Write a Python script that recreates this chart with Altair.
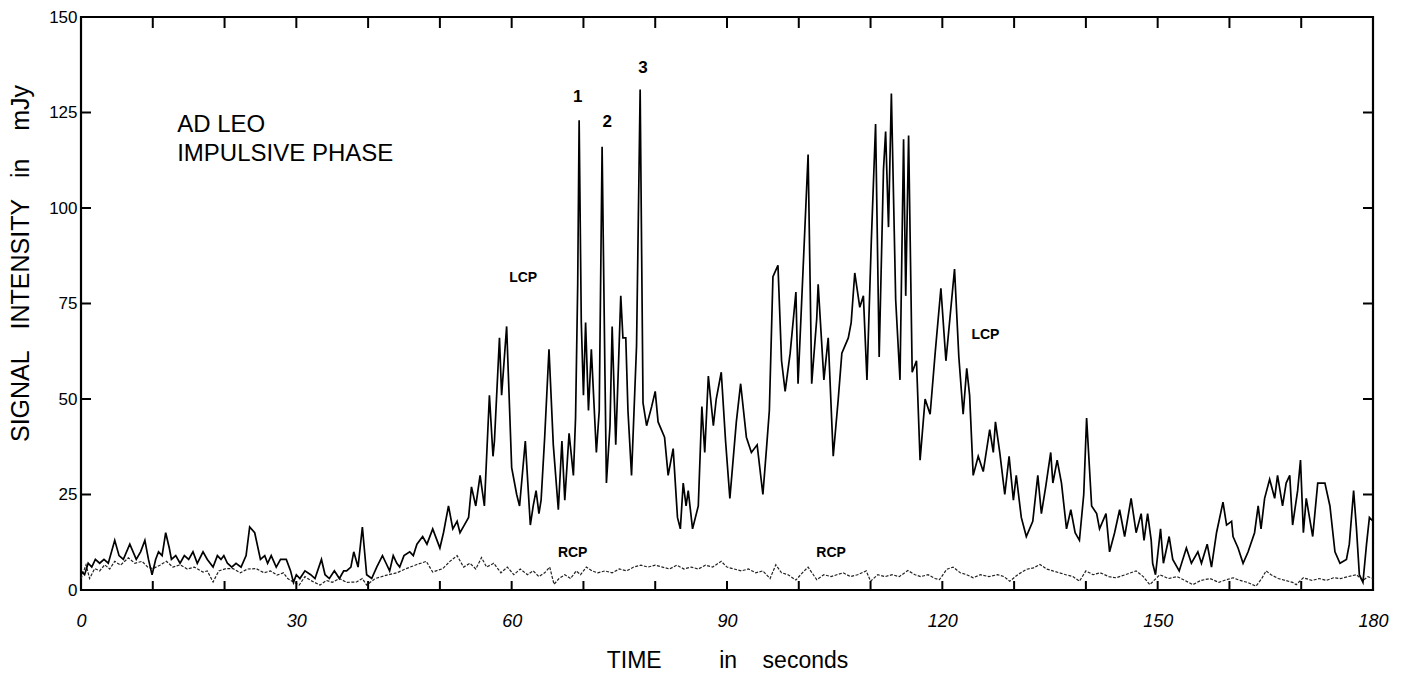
import altair as alt
import pandas as pd

# ---- data (time in s, signal in mJy) ----
lcp_t = [0.0, 0.5, 1.0, 1.5, 2.0, 2.6, 3.2, 3.8, 4.7, 5.3, 5.9, 6.8, 7.7, 8.3, 8.9, 9.4, 9.9, 10.4, 10.8, 11.3,
         11.8, 12.3, 12.6, 13.2, 13.8, 14.4, 15.0, 15.6, 16.2, 17.0, 17.6, 18.4, 19.0, 19.5, 19.9, 20.4, 21.0, 21.6, 22.3, 23.0,
         23.5, 24.2, 25.0, 25.6, 26.0, 26.5, 27.2, 27.8, 28.6, 29.2, 29.6, 30.0, 30.5, 31.2, 32.0, 32.6, 33.5, 34.0, 34.6, 35.3,
         36.0, 36.6, 37.0, 37.6, 38.0, 38.6, 39.2, 39.8, 40.5, 41.2, 42.0, 42.5, 43.0, 43.5, 44.0, 44.4, 45.0, 45.8, 46.3, 46.8,
         47.6, 48.2, 49.0, 49.6, 50.0, 50.5, 51.2, 51.8, 52.4, 52.8, 53.4, 54.0, 54.4, 55.0, 55.6, 56.2, 56.9, 57.4, 57.6, 58.3,
         58.6, 59.3, 60.0, 60.7, 61.1, 61.9, 62.6, 63.0, 63.4, 63.8, 64.1, 64.6, 65.2, 65.8, 66.5, 67.0, 67.4, 68.0, 68.6, 68.9,
         69.2, 69.4, 69.7, 70.0, 70.3, 70.7, 71.1, 71.8, 72.2, 72.6, 73.0, 73.2, 73.7, 74.0, 74.5, 74.9, 75.2, 75.5, 75.9, 76.2,
         76.7, 77.4, 77.9, 78.3, 78.8, 79.5, 80.0, 80.4, 81.3, 81.8, 82.5, 83.1, 83.5, 83.9, 84.3, 84.6, 85.2, 86.0, 86.5, 86.9,
         87.4, 88.1, 88.5, 89.2, 89.8, 90.4, 91.3, 91.9, 92.7, 93.4, 94.2, 95.0, 95.5, 95.9, 96.4, 97.1, 97.6, 98.1, 98.8, 99.6,
         99.9, 100.6, 101.3, 101.8, 102.5, 102.7, 103.5, 104.1, 104.8, 105.5, 106.0, 106.9, 107.3, 107.8, 108.5, 109.0, 109.5, 110.1, 110.7, 111.2,
         111.8, 112.1, 112.5, 112.9, 113.5, 114.1, 114.6, 114.9, 115.3, 115.8, 116.4, 116.9, 117.6, 118.3, 119.0, 119.8, 120.5, 121.1, 121.7, 122.3,
         122.9, 123.4, 123.8, 124.3, 125.0, 125.7, 126.6, 127.1, 127.4, 128.0, 128.7, 129.3, 129.9, 130.3, 131.0, 131.7, 132.6, 133.3, 133.8, 134.4,
         135.1, 135.4, 136.0, 136.6, 137.3, 137.9, 138.5, 139.1, 139.7, 140.1, 140.8, 141.5, 141.9, 142.8, 143.3, 144.0, 144.7, 145.4, 146.3, 147.0,
         147.7, 148.1, 148.6, 149.1, 149.3, 149.7, 150.4, 150.8, 151.6, 152.1, 153.0, 154.0, 154.7, 155.6, 156.1, 156.9, 157.5, 158.2, 159.1, 159.6,
         160.3, 160.5, 161.2, 161.9, 162.6, 163.5, 164.0, 164.4, 164.9, 165.6, 166.3, 166.7, 167.4, 167.9, 168.4, 168.8, 169.5, 169.9, 170.3, 170.7,
         171.6, 172.3, 173.3, 174.0, 174.7, 175.4, 176.3, 176.7, 177.3, 177.7, 178.1, 178.6, 179.1, 179.5, 180.0]
lcp_v = [5, 4, 7, 6, 8, 7, 8, 7, 13, 9, 8, 12, 8, 10, 13, 8, 4, 8, 10, 9,
         15, 11, 8, 9, 7, 9, 8, 10, 7, 10, 8, 6, 9, 8, 9, 7, 6, 7, 6, 9,
         16.5, 15, 8, 9, 7, 9, 6, 8, 8, 5, 2, 4, 3, 5, 4, 3, 8, 4, 3, 5,
         3, 5, 5, 6, 10, 6, 16.5, 4, 3, 6, 9, 7, 5, 9, 7, 6, 9, 10, 9, 12,
         14, 12, 16, 13, 11, 15, 22, 16, 18, 15, 17, 19, 27, 22, 30, 22, 51, 35, 39, 66,
         51, 69, 32, 25, 22, 39, 17, 22, 26, 20, 23.5, 40, 63, 38, 21, 39, 23.5, 41, 30, 45,
         80, 123, 70, 51, 70, 47, 63, 36, 47, 116, 56, 28, 43, 69, 38, 60, 77, 66, 66, 47,
         30, 64, 131, 49, 43, 48, 52, 44, 40, 30, 37, 19, 16, 28, 22, 26, 16, 22, 48, 36,
         56, 43, 50, 57, 39, 24, 44, 54, 40, 36, 38, 25, 37, 47, 82, 85, 60, 52, 62, 78,
         54, 84, 114, 54, 71, 80, 55, 66, 35, 50, 62, 66, 70, 83, 74, 77, 55, 91, 122, 61,
         110, 120, 95, 130, 76, 55, 118, 77, 119, 57, 60, 34, 50, 46, 62, 79, 60, 72, 84, 61,
         46, 58, 51, 30, 35, 31, 42, 36, 44, 36, 25, 35, 23.5, 30, 19, 14, 18, 30, 20, 27,
         36, 28, 34, 28, 16, 21, 15, 13, 25, 45, 22, 20, 16, 20, 10, 15, 21, 14, 24, 15,
         20, 13, 20, 13, 7, 4, 16, 7, 14, 8, 5, 11, 7, 10, 7, 12, 6, 15, 23, 17,
         18, 14, 11, 7, 10, 15, 22, 16, 24, 29, 24, 30, 22, 28, 30, 17, 26, 34, 15, 24,
         14, 28, 28, 22, 10, 7, 8, 12, 26, 16, 4, 2, 12, 19, 18]

rcp_t = [0.0, 0.7, 1.2, 1.9, 2.6, 3.3, 4.0, 4.7, 5.5, 6.6, 7.5, 8.5, 9.3, 10.0, 11.0, 11.9, 12.8, 13.8, 14.8, 15.8,
         17.0, 17.6, 18.4, 19.2, 20.2, 21.2, 22.2, 23.2, 24.4, 25.5, 26.4, 27.3, 28.2, 28.8, 29.6, 30.4, 31.2, 32.0, 33.3, 34.2,
         35.0, 36.0, 37.0, 38.4, 39.2, 39.8, 41.0, 42.6, 44.0, 45.3, 46.7, 48.1, 49.0, 50.4, 51.4, 52.4, 53.3, 54.2, 55.0, 55.8,
         56.5, 57.5, 58.5, 59.4, 60.3, 61.2, 62.2, 63.0, 63.8, 64.6, 65.3, 65.9, 66.6, 67.4, 68.2, 69.0, 69.6, 70.4, 71.2, 72.0,
         73.0, 74.0, 75.0, 76.0, 77.0, 78.0, 79.0, 80.0, 81.0, 82.0, 83.0, 84.0, 85.0, 86.0, 87.0, 88.0, 89.2, 90.0, 91.0, 92.0,
         93.0, 94.0, 95.0, 96.0, 96.8, 97.6, 98.5, 99.6, 100.5, 101.3, 102.5, 103.5, 104.5, 105.3, 106.2, 107.2, 108.2, 109.4, 110.0, 111.0,
         112.0, 113.0, 114.0, 115.2, 116.2, 117.0, 118.0, 119.0, 119.6, 120.6, 121.5, 122.5, 123.4, 124.3, 125.3, 126.5, 127.7, 128.6, 129.4, 130.5,
         131.7, 132.7, 133.6, 134.5, 135.4, 136.3, 137.2, 138.2, 139.1, 140.0, 141.0, 142.0, 143.2, 144.2, 145.5, 147.0, 148.0, 148.9, 150.3, 151.5,
         152.7, 153.8, 154.9, 156.0, 157.3, 158.5, 159.6, 160.5, 161.5, 162.5, 163.7, 164.5, 165.1, 165.8, 166.8, 167.8, 168.8, 169.3, 170.3, 171.5,
         172.5, 173.5, 174.5, 175.5, 176.5, 177.7, 178.6, 179.3, 180.0]
rcp_v = [3, 6.6, 3, 5.6, 5, 6.6, 5.5, 7.5, 6.5, 8.4, 7, 7.5, 6, 5.6, 6.5, 7.5, 6, 6.6, 5.5, 6,
         4.7, 5, 2.1, 5, 5.6, 5.6, 4.5, 5.5, 5.6, 4.5, 5, 3.9, 4.5, 3, 2.1, 1.3, 3.5, 2.5, 1.3, 2.5,
         2, 3, 2, 2.1, 3, 1.3, 3, 3.9, 4.5, 5.6, 6.6, 7.5, 4.7, 5.6, 7.5, 9, 6, 7, 5.5, 8.5,
         6, 7, 4.5, 6, 4, 5.5, 4, 5, 3.5, 4.5, 6, 1.5, 3, 4, 3, 5, 4, 6, 5, 4.5,
         5, 4.5, 5.5, 5, 6, 6.5, 6, 6.5, 6, 5.5, 6.5, 5.5, 6, 5.5, 6.5, 6, 7.5, 6, 5.5, 5,
         5.5, 4.5, 5, 3, 6.6, 4.5, 4, 2.6, 4.5, 6, 2.7, 4, 3.5, 4, 4.5, 3.5, 4, 5, 2.3, 4,
         3.5, 4, 3.5, 5.1, 4, 3.5, 4, 3, 2.7, 5.4, 6, 4.5, 4, 3.2, 4, 3.5, 4, 3.5, 2.3, 4,
         5.4, 5.8, 6.7, 5.5, 5, 4.5, 4, 3.5, 2.3, 5, 4, 4.5, 3.5, 3.2, 4, 5, 3.5, 1.4, 4, 3,
         3.5, 2.5, 1.4, 2.5, 3, 2, 2.7, 3.2, 2.5, 2, 1, 3, 5, 4, 3, 2.5, 2, 1.4, 3.2, 2.5,
         3, 2.5, 3.2, 3, 3.5, 4, 2.5, 3.5, 3]

x_label_values = [0, 30, 60, 90, 120, 150, 180]
y_label_values = [0, 25, 50, 75, 100, 125, 150]
x_tick_values = [10, 20, 30, 40, 50, 60, 70, 80, 90, 100, 110, 120, 130, 140, 150, 160, 170]
y_tick_values = [25, 50, 75, 100, 125]

# annotations: text, time, signal
note_text = ["AD LEO", "IMPULSIVE PHASE"]
note_t = [13.4, 13.4]
note_v = [121.8, 114.2]
peak_text = ["1", "2", "3"]
peak_t = [69.2, 73.3, 78.3]
peak_v = [129.1, 122.5, 136.6]
pol_text = ["LCP", "LCP", "RCP", "RCP"]
pol_t = [61.6, 126.0, 68.5, 104.5]
pol_v = [81.7, 66.8, 9.7, 9.7]

W, H = 1292, 573
FONT = "Liberation Sans"
NB = "\u00a0"

lcp = pd.DataFrame({"t": lcp_t, "v": lcp_v})
rcp = pd.DataFrame({"t": rcp_t, "v": rcp_v})
xt = pd.DataFrame({"t": x_tick_values})
yt = pd.DataFrame({"v": y_tick_values})
notes = pd.DataFrame({"text": note_text, "t": note_t, "v": note_v})
peaks = pd.DataFrame({"text": peak_text, "t": peak_t, "v": peak_v})
pols = pd.DataFrame({"text": pol_text, "t": pol_t, "v": pol_v})

xscale = alt.Scale(domain=[0, 180], nice=False, zero=False)
yscale = alt.Scale(domain=[0, 150], nice=False, zero=False)

y_title = "SIGNAL" + NB * 3 + "INTENSITY" + NB * 3 + "in" + NB * 4 + "mJy"
x_title = "TIME" + NB * 9 + "in" + NB * 4 + "seconds"

x_enc = alt.X("t:Q", scale=xscale, axis=alt.Axis(
    values=x_label_values, title=x_title, ticks=False, domain=False, grid=False,
    labelFont=FONT, labelFontSize=18, labelFontStyle="italic", labelColor="black",
    labelPadding=22, labelFlush=False, labelOverlap=False,
    titleFont=FONT, titleFontSize=23, titleFontWeight="normal", titleColor="black",
    titleY=70, titleBaseline="middle"))
y_enc = alt.Y("v:Q", scale=yscale, axis=alt.Axis(
    values=y_label_values, title=y_title, ticks=False, domain=False, grid=False,
    labelFont=FONT, labelFontSize=17, labelColor="black", labelPadding=4,
    labelFlush=False, labelOverlap=False,
    titleFont=FONT, titleFontSize=25, titleFontWeight="normal", titleColor="black",
    titleAngle=270, titleX=-61, titleY=246, titleAlign="center", titleBaseline="middle"))

lcp_line = alt.Chart(lcp).mark_line(color="black", strokeWidth=1.7, interpolate="linear").encode(
    x=x_enc, y=y_enc)
rcp_line = alt.Chart(rcp).mark_line(color="#222222", strokeWidth=1.2, strokeDash=[3, 1.5]).encode(
    x=alt.X("t:Q", scale=xscale), y=alt.Y("v:Q", scale=yscale))

xs = alt.X("t:Q", scale=xscale)
ys = alt.Y("v:Q", scale=yscale)
tick_bottom = alt.Chart(xt).mark_rule(color="black", strokeWidth=2).encode(
    x=xs, y=alt.value(H), y2=alt.value(H - 9))
tick_top = alt.Chart(xt).mark_rule(color="black", strokeWidth=2).encode(
    x=xs, y=alt.value(0), y2=alt.value(11))
tick_left = alt.Chart(yt).mark_rule(color="black", strokeWidth=2).encode(
    y=ys, x=alt.value(0), x2=alt.value(10))
tick_right = alt.Chart(yt).mark_rule(color="black", strokeWidth=2).encode(
    y=ys, x=alt.value(W), x2=alt.value(W - 10))

note_marks = alt.Chart(notes).mark_text(font=FONT, fontSize=24, align="left", baseline="middle",
                                        color="black").encode(x=xs, y=ys, text="text:N")
peak_marks = alt.Chart(peaks).mark_text(font=FONT, fontSize=17, fontWeight="bold", align="center",
                                        baseline="middle", color="black").encode(x=xs, y=ys, text="text:N")
pol_marks = alt.Chart(pols).mark_text(font=FONT, fontSize=14, fontWeight="bold", align="center",
                                      baseline="middle", color="black").encode(x=xs, y=ys, text="text:N")

chart = alt.layer(
    rcp_line, lcp_line, tick_bottom, tick_top, tick_left, tick_right,
    note_marks, peak_marks, pol_marks
).properties(
    width=W, height=H,
    autosize=alt.AutoSizeParams(type="none"),
    padding={"left": 81, "top": 17, "right": 30, "bottom": 92},
    background="white"
).configure_view(stroke="black", strokeWidth=2.2)

chart.save("out.html", embed_options={"renderer": "svg", "actions": False})
